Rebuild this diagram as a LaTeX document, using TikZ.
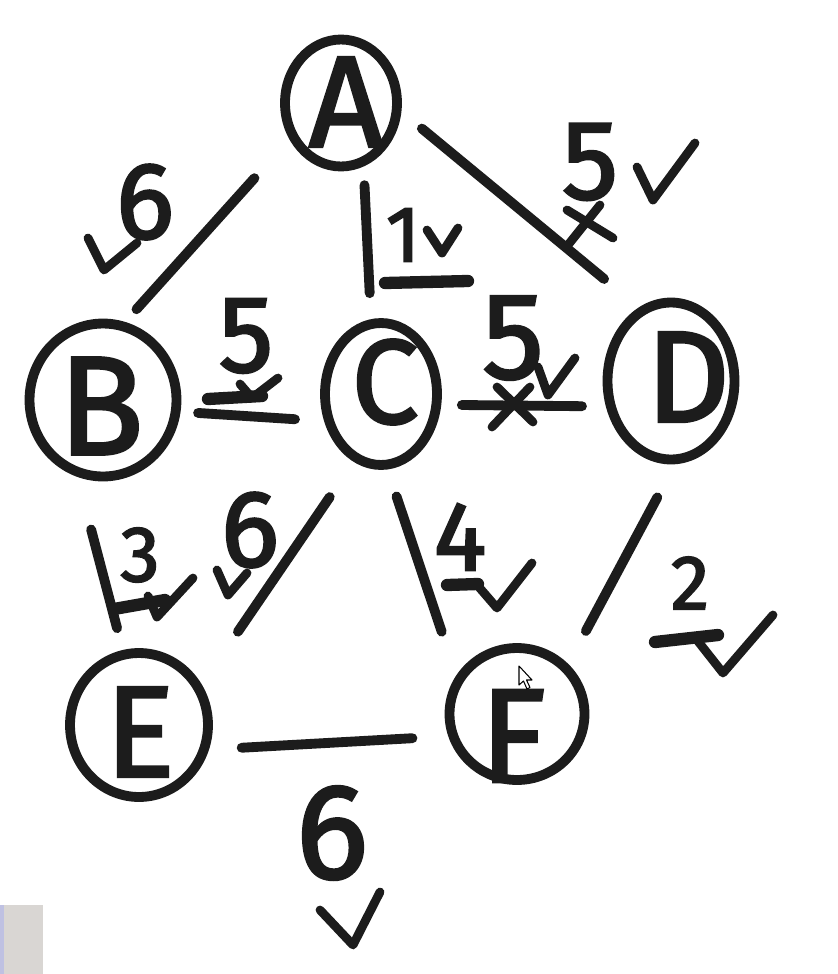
\documentclass[tikz,border=0pt]{standalone}
\usepackage{fontspec}
\setmainfont{Fira Sans}
\newfontfamily\handfont{Fira Sans}[FakeBold=2.2]
\usetikzlibrary{shapes.geometric}
\definecolor{ink}{HTML}{1C1C1C}
\definecolor{patch}{HTML}{D9D6D3}
\definecolor{patchedge}{HTML}{BFC1E2}
\begin{document}
\begin{tikzpicture}[x=0.02cm,y=-0.02cm,
  ring/.style={draw=ink, ellipse, line width=5.6pt, inner sep=0pt, outer sep=0pt},
  letter/.style={font=\handfont\fontsize{#1}{#1}\selectfont, text=ink, inner sep=0pt},
  edge/.style={draw=ink, line width=5.6pt, line cap=round},
  wt/.style={font=\handfont\fontsize{#1}{#1}\selectfont, text=ink, inner sep=0pt},
  tick/.style={draw=ink, line width=5pt, line cap=round, line join=round},
  bar/.style={draw=ink, line width=7pt, line cap=round}]
\useasboundingbox (0,0) rectangle (838,974);
\fill[white] (0,0) rectangle (838,974);

% vertices (rings) and their letters
\node[ring, minimum width=2.24cm, minimum height=2.54cm] (A) at (341,103) {};
\node[ring, minimum width=2.94cm, minimum height=3.06cm] (B) at (103,400) {};
\node[ring, minimum width=2.24cm, minimum height=2.84cm] (C) at (381,394) {};
\node[ring, minimum width=2.54cm, minimum height=3.14cm] (D) at (671,381) {};
\node[ring, minimum width=2.76cm, minimum height=2.88cm] (E) at (139,725) {};
\node[ring, minimum width=2.70cm, minimum height=2.64cm] (F) at (517,714) {};
\node[letter=74] (lA) at (346,102) {A};
\node[letter=80] (lB) at (101,406) {B};
\node[letter=68] (lC) at (385,382) {C};
\node[letter=74] (lD) at (688,377) {D};
\node[letter=74] (lE) at (140,732) {E};
\node[letter=76] (lF) at (513,736) {F};

% edges
\draw[edge, shorten <=1.15cm, shorten >=0.45cm] (A.214.7) -- (B.76.1);
\draw[edge, shorten <=0.48cm, shorten >=0.62cm] (A.291.9) -- (C.98.1);
\draw[edge, shorten <=0.65cm, shorten >=1.0cm] (A.355.4) -- (D.112.6);
\draw[edge, shorten <=0.45cm, shorten >=0.69cm] (B.351.6) -- (C.208.7);
\draw[edge, shorten <=0.51cm, shorten >=0.58cm] (C.349.1) -- (D.203.8);
\draw[edge, shorten <=1.21cm, shorten >=0.55cm] (B.249.3) -- (E.102.4);
\draw[edge, shorten <=0.95cm, shorten >=1.39cm] (C.249.5) -- (E.31.8);
\draw[edge, shorten <=0.67cm, shorten >=1.05cm] (C.274) -- (F.151.6);
\draw[edge, shorten <=0.87cm, shorten >=0.85cm] (D.275.5) -- (F.43.7);
\draw[edge, shorten <=0.76cm, shorten >=0.82cm] (E.339.1) -- (F.199.2);

% weights
\node[wt=62] (w1) at (145,202) {6};
\node[wt=45] (w2) at (403,235) {1};
\node[wt=64] (w3) at (590,162) {5};
\node[wt=62] (w4) at (246,336) {5};
\node[wt=70] (w5) at (513,338) {5};
\node[wt=45] (w6) at (140,555) {3};
\node[wt=62] (w7) at (250,530) {6};
\node[wt=56] (w8) at (460,537) {4};
\node[wt=44] (w9) at (690,583) {2};
\node[wt=77] (w10) at (332,833) {6};

% ticks, crosses and underlines
\draw[tick] (88,238) -- (104,270) -- (137,243);
\draw[tick] (427,230) -- (442,253) -- (458,228);
\draw[bar] (385,283) -- (468,281);
\draw[tick] (637,167) -- (653,200) -- (695,143);
\draw[tick] (567,210) -- (613,238);
\draw[tick] (600,205) -- (568,245);
\draw[bar] (208,399) -- (262,396);
\draw[tick] (240,384) -- (252,398) -- (278,378);
\draw[tick] (538,367) -- (548,395) -- (575,358);
\draw[tick] (492,427) -- (530,387);
\draw[tick] (497,387) -- (533,422);
\draw[bar] (114,609) -- (165,600);
\draw[tick] (148,596) -- (157,617) -- (193,578);
\draw[tick] (217,570) -- (228,595) -- (247,573);
\draw[bar] (447,585) -- (478,584);
\draw[tick] (478,586) -- (497,608) -- (532,563);
\draw[bar] (655,642) -- (718,635);
\draw[tick] (697,640) -- (723,673) -- (773,615);
\draw[tick] (320,910) -- (353,945) -- (380,892);

% mouse pointer
\draw[fill=white, draw=black, line width=0.6pt, line join=round]
  (519,666) -- (519,685) -- (523.5,681) -- (527,689) -- (530,687.5) -- (526.5,680) -- (532,680) -- cycle;

% corner patch
\fill[patch] (0,905) rectangle (43,974);
\fill[patchedge] (0,905) rectangle (4,974);
\end{tikzpicture}
\end{document}
